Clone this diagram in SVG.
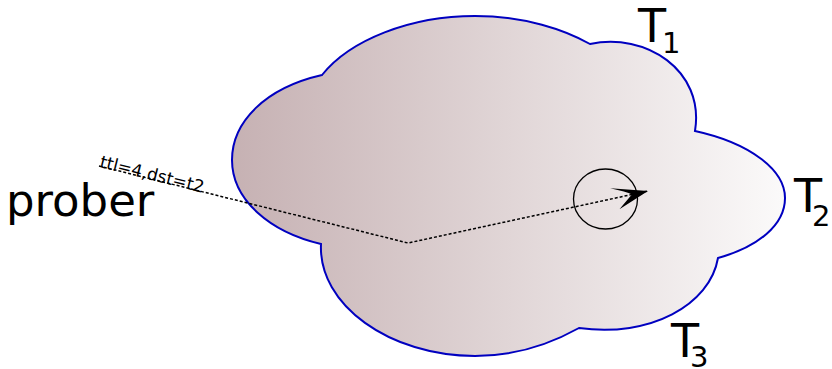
<svg xmlns="http://www.w3.org/2000/svg" width="832" height="369" viewBox="0 0 832 369">
<style>
.lbl{font-family:"DejaVu Sans",sans-serif;fill:#000}
.conn{fill:none;stroke:#000;stroke-width:1.5;stroke-dasharray:3,2}
</style>
<defs>
<linearGradient id="g" gradientUnits="userSpaceOnUse" x1="232" y1="0" x2="785" y2="0">
<stop offset="0" stop-color="#c6b1b3"/>
<stop offset="1" stop-color="#fbfafa"/>
</linearGradient>
<marker id="ah" markerUnits="userSpaceOnUse" markerWidth="40" markerHeight="30" refX="0" refY="0" viewBox="-32 -12 34 24" orient="auto" overflow="visible">
<path d="M0,0 L-31,-9 Q-18,-3 -14,0 Q-18,3 -27,10 Z" fill="#000"/>
</marker>
</defs>
<g id="cloud">
<path d="M322,75 C265,88 232,122 232,160 C232,200 270,232 321,244 C318,305 390,356 475,356 C510,356 545,347 579,328 C650,338 710,305 718,258 C758,247 785,225 785,198 C785,170 750,143 695,131 C705,70 645,32 590,44 C565,30 525,16 475,16 C410,16 350,40 322,75 Z" fill="url(#g)" stroke="#0000c0" stroke-width="2"/>
</g>
<g id="target">
<ellipse cx="605.5" cy="199" rx="32" ry="30" fill="none" stroke="#000" stroke-width="1.3"/>
</g>
<g id="connectors">
<path class="conn" d="M99,166 L408,243 L648,191" marker-end="url(#ah)"/>
</g>
<g id="probe-label">
<text class="lbl" x="99" y="167" font-size="17" transform="rotate(14 99 167)">ttl=4,dst=t2</text>
</g>
<g id="prober">
<text class="lbl" x="6" y="216" font-size="45">prober</text>
</g>
<g id="T1">
<text class="lbl" x="638" y="42" font-size="46">T<tspan font-size="29" dx="-4" dy="11">1</tspan></text>
</g>
<g id="T2">
<text class="lbl" x="794" y="212" font-size="46">T<tspan font-size="29" dx="-10" dy="14">2</tspan></text>
</g>
<g id="T3">
<text class="lbl" x="671" y="357" font-size="46">T<tspan font-size="29" dx="-9" dy="10">3</tspan></text>
</g>
</svg>
